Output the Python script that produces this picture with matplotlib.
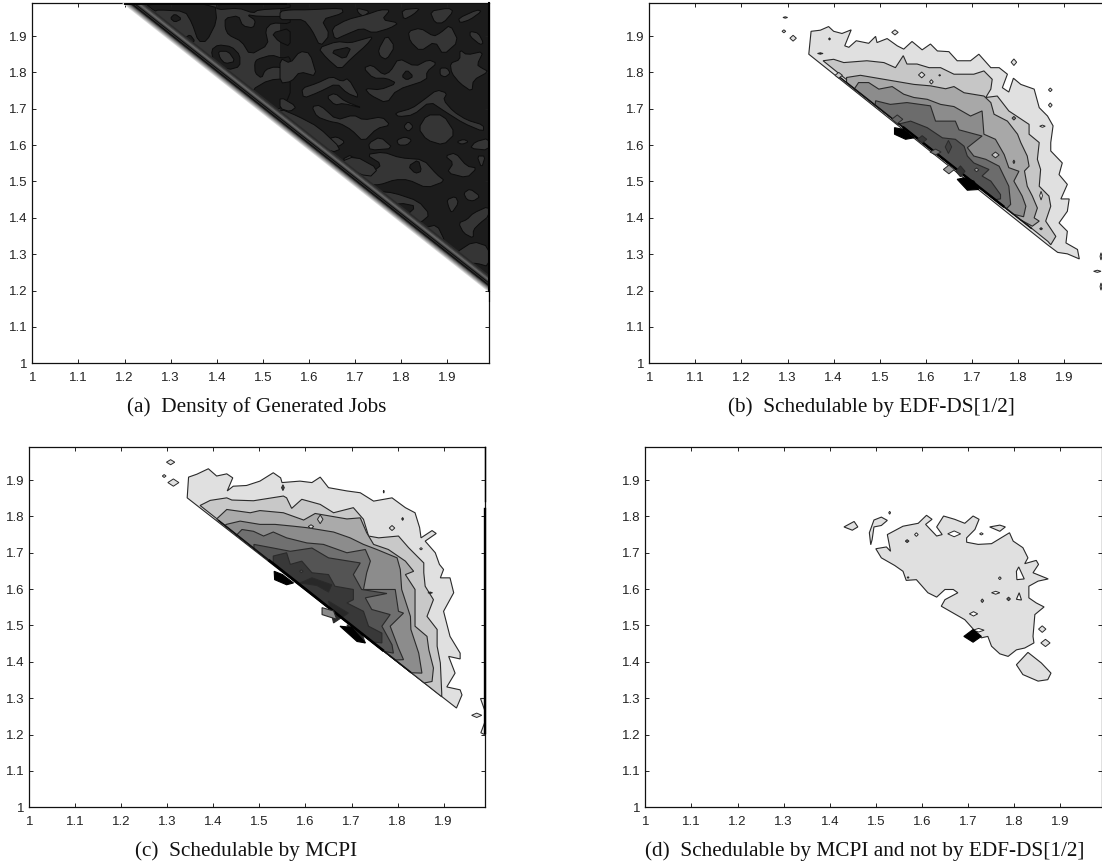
import numpy as np
import matplotlib
matplotlib.use("Agg")
import matplotlib.pyplot as plt

W, H = 1102, 863
plt.rcParams['font.family'] = ['Liberation Sans', 'DejaVu Sans']

TICKS = [1, 1.1, 1.2, 1.3, 1.4, 1.5, 1.6, 1.7, 1.8, 1.9]
TICK_LABELS = ['1', '1.1', '1.2', '1.3', '1.4', '1.5', '1.6', '1.7', '1.8', '1.9']
CAPTIONS = ['(a)  Density of Generated Jobs', '(b)  Schedulable by EDF-DS[1/2]',
            '(c)  Schedulable by MCPI', '(d)  Schedulable by MCPI and not by EDF-DS[1/2]']

# ---------- panel (a): left part is mostly the lighter level with darker lobes on it
A_LEFT_BASE = [(1.25,1.99),(1.537,1.99),(1.537,1.66),(1.25,1.945)]
A_LEFT_DARK = [
 [(1.244,1.989),(1.396,1.989),(1.400,1.940),(1.378,1.885),(1.360,1.885),(1.346,1.936),(1.331,1.968),(1.273,1.972),(1.266,1.968)],
 [(1.299,1.949),(1.309,1.961),(1.324,1.947),(1.309,1.938)],
 [(1.330,1.894),(1.342,1.904),(1.353,1.885),(1.338,1.881)],
 [(1.400,1.989),(1.559,1.989),(1.559,1.977),(1.490,1.972),(1.479,1.963),(1.447,1.977),(1.400,1.972)],
 [(1.418,1.949),(1.447,1.956),(1.456,1.928),(1.479,1.922),(1.484,1.943),(1.465,1.959),(1.490,1.954),(1.559,1.954),(1.559,1.934),(1.519,1.936),(1.505,1.917),(1.512,1.876),(1.472,1.848),(1.454,1.885),(1.425,1.903),(1.418,1.922)],
 [(1.388,1.862),(1.403,1.876),(1.432,1.871),(1.450,1.848),(1.450,1.816),(1.425,1.807),(1.393,1.825)],
 [(1.482,1.825),(1.487,1.836),(1.519,1.848),(1.541,1.839),(1.559,1.844),(1.559,1.807),(1.526,1.816),(1.505,1.807),(1.497,1.784),(1.483,1.798)],
 [(1.476,1.752),(1.512,1.779),(1.559,1.784),(1.559,1.734),(1.530,1.692),(1.505,1.715),(1.490,1.738)],
 [(1.519,1.908),(1.559,1.922),(1.559,1.871),(1.534,1.885)],
]
A_LEFT_HOOK = [(1.403,1.858),(1.425,1.858),(1.440,1.830),(1.418,1.824),(1.407,1.839)]
A_PATCHES = [
 [(1.537,1.968),(1.559,1.972),(1.598,1.972),(1.671,1.977),(1.674,1.963),(1.627,1.945),(1.645,1.903),(1.624,1.871),(1.606,1.917),(1.588,1.945),(1.559,1.945),(1.537,1.945)],
 [(1.703,1.977),(1.732,1.968),(1.718,1.954),(1.707,1.963)],
 [(1.801,1.972),(1.841,1.977),(1.826,1.959),(1.805,1.945)],
 [(1.862,1.968),(1.902,1.977),(1.913,1.968),(1.891,1.936),(1.873,1.936)],
 [(1.924,1.949),(1.964,1.972),(1.974,1.968),(1.949,1.945),(1.927,1.936)],
 [(1.649,1.922),(1.682,1.945),(1.725,1.959),(1.754,1.972),(1.776,1.972),(1.758,1.945),(1.794,1.936),(1.776,1.922),(1.739,1.908),(1.714,1.922),(1.678,1.903),(1.656,1.890)],
 [(1.620,1.867),(1.660,1.885),(1.689,1.881),(1.714,1.890),(1.739,1.899),(1.725,1.876),(1.692,1.839),(1.667,1.807),(1.638,1.839)],
 [(1.815,1.913),(1.841,1.922),(1.870,1.899),(1.884,1.908),(1.906,1.931),(1.924,1.885),(1.891,1.848),(1.873,1.885),(1.841,1.858),(1.819,1.885)],
 [(1.750,1.862),(1.768,1.903),(1.786,1.871),(1.768,1.835),(1.754,1.844)],
 [(1.949,1.913),(1.967,1.908),(1.978,1.881),(1.971,1.876),(1.949,1.899)],
 [(1.927,1.862),(1.942,1.848),(1.978,1.858),(1.964,1.821),(1.974,1.812),(1.989,1.802),(1.956,1.779),(1.953,1.747),(1.927,1.770),(1.909,1.798),(1.906,1.825),(1.927,1.835)],
 [(1.718,1.812),(1.736,1.821),(1.761,1.793),(1.776,1.802),(1.794,1.839),(1.830,1.816),(1.859,1.835),(1.877,1.825),(1.855,1.802),(1.855,1.779),(1.790,1.752),(1.768,1.715),(1.732,1.738),(1.721,1.756),(1.754,1.752),(1.790,1.770),(1.768,1.784),(1.739,1.784)],
 [(1.537,1.839),(1.559,1.825),(1.580,1.858),(1.602,1.853),(1.617,1.789),(1.580,1.802),(1.562,1.775),(1.537,1.770)],
 [(1.584,1.756),(1.617,1.770),(1.649,1.789),(1.671,1.775),(1.685,1.784),(1.710,1.729),(1.682,1.743),(1.660,1.770),(1.620,1.745),(1.588,1.729)],
 [(1.638,1.733),(1.656,1.743),(1.678,1.720),(1.718,1.701),(1.674,1.715),(1.656,1.710)],
 [(1.606,1.706),(1.624,1.710),(1.660,1.669),(1.696,1.683),(1.718,1.669),(1.758,1.678),(1.776,1.655),(1.747,1.646),(1.718,1.609),(1.692,1.642),(1.667,1.660),(1.645,1.665),(1.617,1.678)],
 [(1.786,1.688),(1.823,1.701),(1.848,1.724),(1.877,1.752),(1.899,1.743),(1.891,1.724),(1.913,1.692),(1.942,1.669),(1.978,1.655),(1.978,1.637),(1.935,1.660),(1.895,1.692),(1.862,1.720),(1.826,1.683),(1.794,1.678)],
 [(1.837,1.646),(1.855,1.683),(1.891,1.683),(1.917,1.632),(1.891,1.600),(1.855,1.614)],
 [(1.805,1.651),(1.815,1.665),(1.826,1.651),(1.815,1.637)],
 [(1.790,1.614),(1.808,1.623),(1.823,1.614),(1.812,1.600),(1.794,1.600)],
 [(1.645,1.619),(1.660,1.623),(1.678,1.609),(1.664,1.596),(1.649,1.600)],
 [(1.729,1.605),(1.754,1.623),(1.783,1.591),(1.732,1.586)],
 [(1.920,1.609),(1.935,1.616),(1.946,1.609),(1.931,1.602)],
 [(1.949,1.591),(1.960,1.609),(1.989,1.619),(1.989,1.586)],
 [(1.537,1.733),(1.573,1.706),(1.559,1.692),(1.537,1.701)],
 [(1.884,1.812),(1.899,1.812),(1.906,1.798),(1.895,1.787),(1.884,1.793)],
 [(1.671,1.560),(1.692,1.574),(1.736,1.524),(1.758,1.547),(1.724,1.574),(1.761,1.581),(1.797,1.565),(1.848,1.560),(1.877,1.519),(1.895,1.501),(1.855,1.482),(1.815,1.505),(1.786,1.505),(1.754,1.491),(1.729,1.491),(1.700,1.533)],
 [(1.895,1.570),(1.917,1.579),(1.942,1.542),(1.964,1.537),(1.942,1.510),(1.899,1.524),(1.913,1.551)],
 [(1.964,1.570),(1.982,1.570),(1.974,1.537)],
 [(1.935,1.468),(1.949,1.480),(1.971,1.459),(1.956,1.446),(1.942,1.450)],
 [(1.899,1.450),(1.917,1.459),(1.924,1.441),(1.909,1.413),(1.902,1.432)],
 [(1.924,1.386),(1.942,1.395),(1.956,1.413),(1.989,1.432),(1.989,1.404),(1.971,1.386),(1.956,1.367),(1.956,1.344),(1.935,1.358)],
 [(1.747,1.473),(1.783,1.469),(1.837,1.446),(1.862,1.409),(1.841,1.386),(1.823,1.400),(1.801,1.395),(1.833,1.432),(1.797,1.441),(1.776,1.427),(1.754,1.450)],
 [(1.917,1.303),(1.956,1.335),(1.989,1.321),(1.989,1.266),(1.964,1.275),(1.942,1.275)],
 [(1.848,1.372),(1.877,1.381),(1.895,1.335),(1.884,1.312),(1.862,1.344)],
 [(1.660,1.550),(1.730,1.510),(1.750,1.535),(1.700,1.570)],
 [(1.537,1.670),(1.610,1.612),(1.650,1.580),(1.670,1.590),(1.620,1.650),(1.575,1.680),(1.537,1.700)],
]
A_HOLES = [
 [(1.645,1.858),(1.692,1.871),(1.678,1.835)],
 [(1.801,1.789),(1.812,1.807),(1.826,1.789),(1.812,1.779)],
 [(1.815,1.542),(1.837,1.560),(1.844,1.528),(1.830,1.522)],
]
A_EDGE_OFFSETS = [-0.012, -0.009, -0.006, -0.003, 0.000, 0.003, 0.006, 0.009, 0.012, 0.015, 0.018, 0.021, 0.024, 0.027, 0.030]
A_EDGE_GREYS = ['#d8d8d8', '#b8b8b8', '#9a9a9a', '#7a7a7a', '#5a5a5a', '#202020', '#0c0c0c', '#303030', '#0c0c0c', '#3c3c3c', '#5a5a5a', '#6a6a6a', '#505050', '#3c3c3c', '#2a2a2a']

# ---------- panel (b): nested contour levels
B_L1 = [(1.346,1.850),(1.351,1.913),(1.371,1.916),(1.389,1.926),(1.400,1.913),(1.418,1.907),(1.438,1.917),(1.424,1.873),(1.433,1.869),(1.449,1.887),(1.476,1.880),(1.491,1.899),(1.494,1.882),(1.516,1.893),(1.538,1.873),(1.552,1.864),(1.570,1.885),(1.592,1.862),(1.610,1.878),(1.625,1.859),(1.650,1.857),(1.668,1.832),(1.697,1.832),(1.715,1.850),(1.741,1.813),(1.759,1.813),(1.777,1.795),(1.766,1.758),(1.780,1.746),(1.790,1.784),(1.806,1.767),(1.835,1.754),(1.846,1.703),(1.864,1.680),(1.876,1.653),(1.871,1.607),(1.871,1.584),(1.896,1.551),(1.889,1.519),(1.907,1.492),(1.893,1.452),(1.911,1.452),(1.907,1.418),(1.889,1.386),(1.907,1.363),(1.904,1.331),(1.929,1.313),(1.933,1.287),(1.907,1.301),(1.886,1.305),(1.864,1.326)]
B_L2 = [(1.377,1.832),(1.400,1.836),(1.422,1.827),(1.472,1.832),(1.509,1.827),(1.534,1.813),(1.551,1.846),(1.559,1.823),(1.581,1.823),(1.607,1.813),(1.632,1.813),(1.661,1.795),(1.704,1.795),(1.726,1.804),(1.744,1.781),(1.741,1.754),(1.730,1.731),(1.755,1.735),(1.780,1.694),(1.824,1.657),(1.824,1.630),(1.846,1.607),(1.842,1.561),(1.849,1.533),(1.846,1.487),(1.867,1.460),(1.871,1.432),(1.860,1.391),(1.882,1.349),(1.871,1.326),(1.865,1.335)]
B_L3 = [(1.428,1.786),(1.458,1.792),(1.509,1.781),(1.574,1.767),(1.610,1.763),(1.643,1.755),(1.661,1.761),(1.683,1.744),(1.726,1.735),(1.741,1.717),(1.748,1.685),(1.777,1.666),(1.799,1.630),(1.806,1.607),(1.820,1.570),(1.824,1.542),(1.814,1.529),(1.820,1.487),(1.831,1.460),(1.842,1.427),(1.835,1.400),(1.846,1.391),(1.831,1.377),(1.805,1.395),(1.428,1.772)]
B_L4 = [(1.454,1.772),(1.476,1.772),(1.498,1.754),(1.527,1.761),(1.552,1.740),(1.574,1.731),(1.603,1.726),(1.632,1.712),(1.661,1.706),(1.697,1.680),(1.722,1.694),(1.726,1.630),(1.751,1.616),(1.770,1.574),(1.780,1.538),(1.802,1.528),(1.791,1.501),(1.809,1.460),(1.817,1.432),(1.812,1.403),(1.790,1.410),(1.445,1.755)]
B_L5 = [(1.491,1.722),(1.523,1.712),(1.559,1.717),(1.610,1.708),(1.621,1.666),(1.664,1.666),(1.672,1.642),(1.722,1.625),(1.690,1.593),(1.704,1.570),(1.730,1.561),(1.759,1.542),(1.780,1.487),(1.784,1.437),(1.775,1.425),(1.490,1.710)]
B_L6 = [(1.538,1.657),(1.567,1.666),(1.603,1.648),(1.636,1.620),(1.664,1.616),(1.683,1.597),(1.690,1.570),(1.704,1.551),(1.737,1.533),(1.722,1.515),(1.741,1.501),(1.762,1.464),(1.762,1.452),(1.750,1.450),(1.538,1.662)]
B_LEVELS = [B_L1, B_L2, B_L3, B_L4, B_L5, B_L6]
B_BLACK = [[(1.532,1.648),(1.532,1.630),(1.556,1.616),(1.574,1.620),(1.552,1.643)],
           [(1.668,1.506),(1.690,1.476),(1.715,1.478),(1.704,1.501),(1.683,1.510)]]
# centre x, centre y, half width, half height, fill
B_ISLANDS = [(1.295,1.951,.005,.002,'#e0e0e0'),(1.292,1.913,.004,.004,'#e0e0e0'),(1.312,1.894,.007,.008,'#e0e0e0'),(1.533,1.910,.007,.007,'#e0e0e0'),(1.791,1.828,.006,.009,'#e0e0e0'),(1.591,1.793,.007,.008,'#e0e0e0'),(1.612,1.774,.004,.006,'#e0e0e0'),(1.630,1.792,.002,.002,'#666666'),(1.791,1.674,.004,.005,'#888888'),(1.791,1.554,.002,.005,'#666666'),(1.870,1.752,.004,.005,'#e0e0e0'),(1.870,1.710,.004,.006,'#e0e0e0'),(1.853,1.652,.006,.003,'#ffffff'),(1.850,1.461,.003,.012,'#ffffff'),(1.850,1.370,.003,.003,'#333333'),(1.751,1.573,.008,.008,'#c8c8c8'),(1.710,1.532,.005,.005,'#aaaaaa'),(1.411,1.792,.008,.008,'#c8c8c8'),(1.371,1.852,.006,.002,'#222222'),(1.391,1.892,.002,.003,'#222222'),(1.649,1.595,.007,.018,'#404040'),(1.538,1.671,.012,.012,'#666666'),(1.592,1.616,.010,.010,'#383838'),(1.621,1.581,.012,.008,'#777777'),(1.675,1.528,.010,.015,'#333333'),(1.650,1.533,.012,.012,'#999999'),(1.972,1.253,.008,.003,'#e0e0e0'),(1.980,1.294,.002,.010,'#e0e0e0'),(1.980,1.211,.002,.010,'#e0e0e0')]

# ---------- panel (c)
C_L1 = [(1.343,1.851),(1.346,1.908),(1.364,1.916),(1.389,1.931),(1.407,1.911),(1.429,1.917),(1.442,1.906),(1.430,1.870),(1.443,1.883),(1.472,1.885),(1.501,1.897),(1.530,1.920),(1.546,1.906),(1.549,1.893),(1.588,1.897),(1.614,1.893),(1.632,1.908),(1.650,1.879),(1.690,1.870),(1.719,1.865),(1.748,1.842),(1.788,1.851),(1.817,1.824),(1.838,1.810),(1.848,1.769),(1.851,1.741),(1.875,1.761),(1.884,1.753),(1.860,1.732),(1.882,1.700),(1.891,1.668),(1.900,1.654),(1.893,1.631),(1.914,1.631),(1.922,1.590),(1.900,1.539),(1.914,1.470),(1.936,1.424),(1.936,1.408),(1.911,1.415),(1.925,1.369),(1.907,1.331),(1.936,1.323),(1.940,1.309),(1.928,1.273)]
C_L2 = [(1.371,1.830),(1.393,1.844),(1.429,1.851),(1.440,1.845),(1.487,1.843),(1.552,1.856),(1.559,1.851),(1.570,1.822),(1.592,1.847),(1.632,1.833),(1.661,1.810),(1.704,1.824),(1.726,1.792),(1.737,1.746),(1.759,1.741),(1.802,1.746),(1.824,1.714),(1.857,1.672),(1.857,1.645),(1.860,1.608),(1.878,1.571),(1.864,1.525),(1.886,1.489),(1.886,1.443),(1.893,1.397),(1.896,1.314),(1.896,1.304)]
C_L3 = [(1.407,1.793),(1.429,1.819),(1.480,1.810),(1.501,1.816),(1.552,1.810),(1.596,1.790),(1.621,1.808),(1.690,1.793),(1.719,1.796),(1.733,1.755),(1.748,1.723),(1.780,1.709),(1.817,1.677),(1.835,1.649),(1.817,1.640),(1.838,1.599),(1.838,1.498),(1.864,1.470),(1.868,1.433),(1.878,1.383),(1.875,1.346),(1.858,1.342)]
C_L4 = [(1.428,1.778),(1.458,1.787),(1.501,1.778),(1.534,1.778),(1.574,1.773),(1.603,1.769),(1.661,1.757),(1.697,1.741),(1.726,1.723),(1.755,1.709),(1.799,1.686),(1.806,1.654),(1.809,1.599),(1.828,1.525),(1.829,1.489),(1.846,1.424),(1.853,1.369),(1.830,1.370),(1.425,1.775)]
C_L5 = [(1.449,1.747),(1.462,1.764),(1.487,1.759),(1.509,1.746),(1.530,1.757),(1.559,1.741),(1.603,1.727),(1.639,1.723),(1.690,1.700),(1.730,1.709),(1.741,1.677),(1.733,1.645),(1.726,1.599),(1.795,1.599),(1.802,1.539),(1.813,1.534),(1.784,1.498),(1.802,1.438),(1.813,1.406),(1.795,1.405),(1.450,1.750)]
C_L6 = [(1.488,1.723),(1.530,1.713),(1.567,1.704),(1.614,1.713),(1.650,1.686),(1.719,1.672),(1.704,1.640),(1.722,1.599),(1.777,1.588),(1.730,1.576),(1.744,1.544),(1.784,1.530),(1.766,1.498),(1.788,1.447),(1.791,1.424),(1.770,1.429),(1.488,1.712)]
C_L7 = [(1.530,1.691),(1.559,1.700),(1.567,1.668),(1.592,1.677),(1.614,1.645),(1.650,1.640),(1.664,1.608),(1.704,1.599),(1.704,1.571),(1.690,1.562),(1.726,1.539),(1.737,1.498),(1.766,1.479),(1.766,1.452),(1.745,1.455),(1.530,1.670)]
C_LEVELS = [C_L1, C_L2, C_L3, C_L4, C_L5, C_L6, C_L7]
C_DARK = [[(1.588,1.617),(1.614,1.631),(1.657,1.612),(1.650,1.592),(1.625,1.610)],
          [(1.650,1.567),(1.693,1.534),(1.661,1.507)],
          [(1.690,1.502),(1.722,1.479),(1.730,1.452),(1.704,1.470)]]
C_BLACK = [[(1.532,1.649),(1.533,1.626),(1.559,1.612),(1.574,1.617),(1.550,1.640)],
           [(1.675,1.498),(1.712,1.456),(1.730,1.452),(1.700,1.495)]]
C_GREY = [[(1.636,1.549),(1.661,1.540),(1.668,1.517),(1.636,1.530)]]
C_ISLANDS = [(1.307,1.949,.009,.007,'#e0e0e0'),(1.293,1.911,.004,.004,'#e0e0e0'),(1.313,1.893,.012,.010,'#e0e0e0'),(1.632,1.792,.006,.012,'#c8c8c8'),(1.612,1.772,.006,.005,'#e0e0e0'),(1.788,1.768,.006,.007,'#e0e0e0'),(1.811,1.793,.002,.004,'#222222'),(1.770,1.868,.001,.004,'#222222'),(1.851,1.711,.003,.003,'#ffffff'),(1.871,1.590,.005,.002,'#111111'),(1.591,1.649,.004,.004,'#555555'),(1.551,1.879,.003,.008,'#444444'),(1.972,1.253,.011,.006,'#e0e0e0')]
C_EDGE_BITS = [[(1.979,1.300),(1.989,1.300),(1.989,1.262)], [(1.981,1.205),(1.989,1.232),(1.989,1.200)]]
C_RIGHT_THIN = ([1.99, 1.99], [1.99, 1.842])
C_RIGHT_THICK = ([1.99, 1.99], [1.819, 1.205])

# ---------- panel (d)
D_MAIN = [(1.525,1.750),(1.559,1.773),(1.592,1.781),(1.610,1.803),(1.622,1.792),(1.608,1.778),(1.632,1.746),(1.644,1.750),(1.632,1.771),(1.647,1.801),(1.671,1.792),(1.693,1.781),(1.711,1.801),(1.724,1.792),(1.715,1.764),(1.697,1.741),(1.697,1.729),(1.722,1.723),(1.751,1.725),(1.790,1.755),(1.798,1.732),(1.819,1.714),(1.830,1.686),(1.823,1.670),(1.848,1.679),(1.853,1.668),(1.841,1.645),(1.874,1.628),(1.852,1.622),(1.832,1.608),(1.832,1.576),(1.848,1.562),(1.865,1.551),(1.845,1.530),(1.841,1.470),(1.843,1.452),(1.823,1.438),(1.805,1.433),(1.787,1.415),(1.769,1.422),(1.751,1.443),(1.743,1.470),(1.729,1.466),(1.722,1.475),(1.693,1.516),(1.642,1.553),(1.650,1.571),(1.678,1.590),(1.668,1.599),(1.650,1.599),(1.632,1.578),(1.613,1.590),(1.588,1.626),(1.566,1.624),(1.559,1.649),(1.541,1.665),(1.512,1.686),(1.500,1.711),(1.523,1.716),(1.532,1.704)]
D_ISLES = [[(1.805,1.392),(1.830,1.426),(1.859,1.397),(1.880,1.369),(1.873,1.351),(1.852,1.347),(1.819,1.365)],
           [(1.431,1.771),(1.453,1.786),(1.461,1.771),(1.449,1.762)],
           [(1.486,1.755),(1.496,1.790),(1.512,1.798),(1.525,1.789),(1.512,1.775),(1.496,1.771),(1.492,1.736),(1.489,1.722)],
           [(1.747,1.771),(1.769,1.776),(1.781,1.771),(1.769,1.759)]]
D_HOLES = [[(1.810,1.661),(1.822,1.628),(1.806,1.626),(1.805,1.649)],
           [(1.811,1.590),(1.816,1.570),(1.805,1.572)]]
D_BLACK = [(1.691,1.470),(1.711,1.489),(1.729,1.470),(1.711,1.454)]
D_ISLANDS = [(1.760,1.590,.009,.004,'#ffffff'),(1.712,1.532,.009,.006,'#ffffff'),(1.670,1.752,.014,.008,'#ffffff'),(1.729,1.752,.004,.003,'#ffffff'),(1.769,1.630,.003,.004,'#ffffff'),(1.731,1.568,.003,.005,'#999999'),(1.788,1.573,.004,.005,'#666666'),(1.568,1.732,.004,.004,'#666666'),(1.588,1.750,.004,.005,'#ffffff'),(1.570,1.632,.002,.002,'#666666'),(1.861,1.490,.008,.009,'#e0e0e0'),(1.868,1.452,.010,.010,'#e0e0e0'),(1.530,1.810,.002,.004,'#e0e0e0'),(1.723,1.487,.012,.005,'#ffffff')]

# ---------- greys of the contour levels, light to dark
B_GREYS = ['#e0e0e0', '#c6c6c6', '#a8a8a8', '#8c8c8c', '#6c6c6c', '#505050']
C_GREYS = ['#e0e0e0', '#c8c8c8', '#aaaaaa', '#8c8c8c', '#707070', '#545454', '#383838']
AXES_PX = [(32.3, 3.3, 489.0, 363.3), (649.3, 3.3, 1105.6, 363.3),
           (29.3, 447.3, 485.0, 807.3), (645.3, 447.3, 1101.7, 807.3)]
CAPTION_PX = [(127, 412), (728, 412), (135, 856), (645, 856)]
LINE = '#2a2a2a'
A_DARK, A_LIGHT, A_OUT = '#1c1c1c', '#353535', '#0c0c0c'

fig = plt.figure(figsize=(W / 100, H / 100), dpi=100, facecolor='white')


def make_axes(px):
    l, t, r, b = px
    ax = fig.add_axes([l / W, 1 - b / H, (r - l) / W, (b - t) / H])
    ax.set_xlim(1, 1.99)
    ax.set_ylim(1, 1.99)
    ax.set_xticks(TICKS, TICK_LABELS)
    ax.set_yticks(TICKS, TICK_LABELS)
    ax.tick_params(direction='in', length=3, width=0.7, top=True, right=True,
                   labelsize=9.5, labelcolor='#222222', color='#222222')
    ax.tick_params(axis='x', pad=6.5)
    ax.tick_params(axis='y', pad=3.5)
    for s in ax.spines.values():
        s.set_linewidth(0.9)
        s.set_color('#111111')
    return ax


def rounded(pts, rounds=1):
    p = np.array(pts, dtype=float)
    for _ in range(rounds):
        q = np.roll(p, -1, axis=0)
        p = np.column_stack([0.8 * p + 0.2 * q, 0.2 * p + 0.8 * q]).reshape(-1, 2)
    return p


def poly(ax, pts, fc, ec=LINE, lw=0.8, z=2):
    p = np.array(pts)
    ax.fill(p[:, 0], p[:, 1], facecolor=fc, edgecolor=ec, linewidth=lw, zorder=z)


def islands(ax, rows, z=6):
    for cx, cy, dx, dy, fc in rows:
        poly(ax, [(cx - dx, cy), (cx, cy + dy), (cx + dx, cy), (cx, cy - dy)], fc, lw=0.7, z=z)


def diag(ax, s, x0, x1, color, lw, z):
    xs = np.array([x0, x1])
    ax.plot(xs, s - xs, color=color, lw=lw, zorder=z, solid_capstyle='butt')


axes = [make_axes(p) for p in AXES_PX]

# (a)
ax = axes[0]
poly(ax, [(1.188, 2.01), (2.0, 2.01), (2.0, 1.188)], A_DARK, ec='none', z=1)
poly(ax, A_LEFT_BASE, A_LIGHT, ec='none', z=1.2)
for patch in A_LEFT_DARK:
    poly(ax, rounded(patch), A_DARK, ec=A_OUT, lw=0.7, z=1.5)
poly(ax, rounded(A_LEFT_HOOK), A_LIGHT, ec=A_OUT, lw=0.7, z=1.7)
for patch in A_PATCHES:
    poly(ax, rounded(patch), A_LIGHT, ec=A_OUT, lw=0.7)
for hole in A_HOLES:
    poly(ax, rounded(hole), A_DARK, ec=A_OUT, lw=0.7, z=3)
for off, g in zip(A_EDGE_OFFSETS, A_EDGE_GREYS):
    diag(ax, 3.2 + off, 1.15, 2.0, g, 1.1, 4)
ax.plot([1.2, 1.55], [1.988, 1.988], color='#050505', lw=1.4, zorder=5)
ax.plot([1.99, 1.99], [1.99, 1.2], color='#000000', lw=1.5, zorder=5, clip_on=False)
ax.plot([1.99, 1.99], [1.2, 1.17], color='#000000', lw=0.8, zorder=5, clip_on=False)

# (b)
ax = axes[1]
for lev, g in zip(B_LEVELS, B_GREYS):
    poly(ax, lev, g)
diag(ax, 3.2, 1.41, 1.83, '#111111', 1.1, 5)
diag(ax, 3.2, 1.55, 1.77, '#000000', 1.8, 5)
for blob in B_BLACK:
    poly(ax, blob, '#000000', ec='#000000', z=7)
islands(ax, B_ISLANDS)

# (c)
ax = axes[2]
for lev, g in zip(C_LEVELS, C_GREYS):
    poly(ax, lev, g)
for blob in C_DARK:
    poly(ax, blob, '#282828', z=4)
diag(ax, 3.2, 1.41, 1.83, '#111111', 1.1, 5)
diag(ax, 3.2, 1.52, 1.77, '#000000', 1.9, 5)
for blob in C_BLACK:
    poly(ax, blob, '#000000', ec='#000000', z=7)
for blob in C_GREY:
    poly(ax, blob, '#8a8a8a', z=7)
islands(ax, C_ISLANDS)
for bit in C_EDGE_BITS:
    poly(ax, bit, '#f0f0f0', z=6)
ax.plot(*C_RIGHT_THIN, color='#000000', lw=1.0, zorder=8, clip_on=False)
ax.plot(*C_RIGHT_THICK, color='#000000', lw=1.7, zorder=8, clip_on=False)

# (d)
ax = axes[3]
poly(ax, D_MAIN, '#e0e0e0')
for isle in D_ISLES:
    poly(ax, isle, '#e0e0e0')
for hole in D_HOLES:
    poly(ax, hole, '#ffffff', z=4)
islands(ax, D_ISLANDS)
poly(ax, D_BLACK, '#000000', ec='#000000', z=7)

for cap, (x, y) in zip(CAPTIONS, CAPTION_PX):
    fig.text(x / W, 1 - y / H, cap, family=['Liberation Serif', 'DejaVu Serif'],
             fontsize=15.3, color='#111111', ha='left', va='baseline')

fig.savefig('out.png', dpi=100, facecolor='white')
